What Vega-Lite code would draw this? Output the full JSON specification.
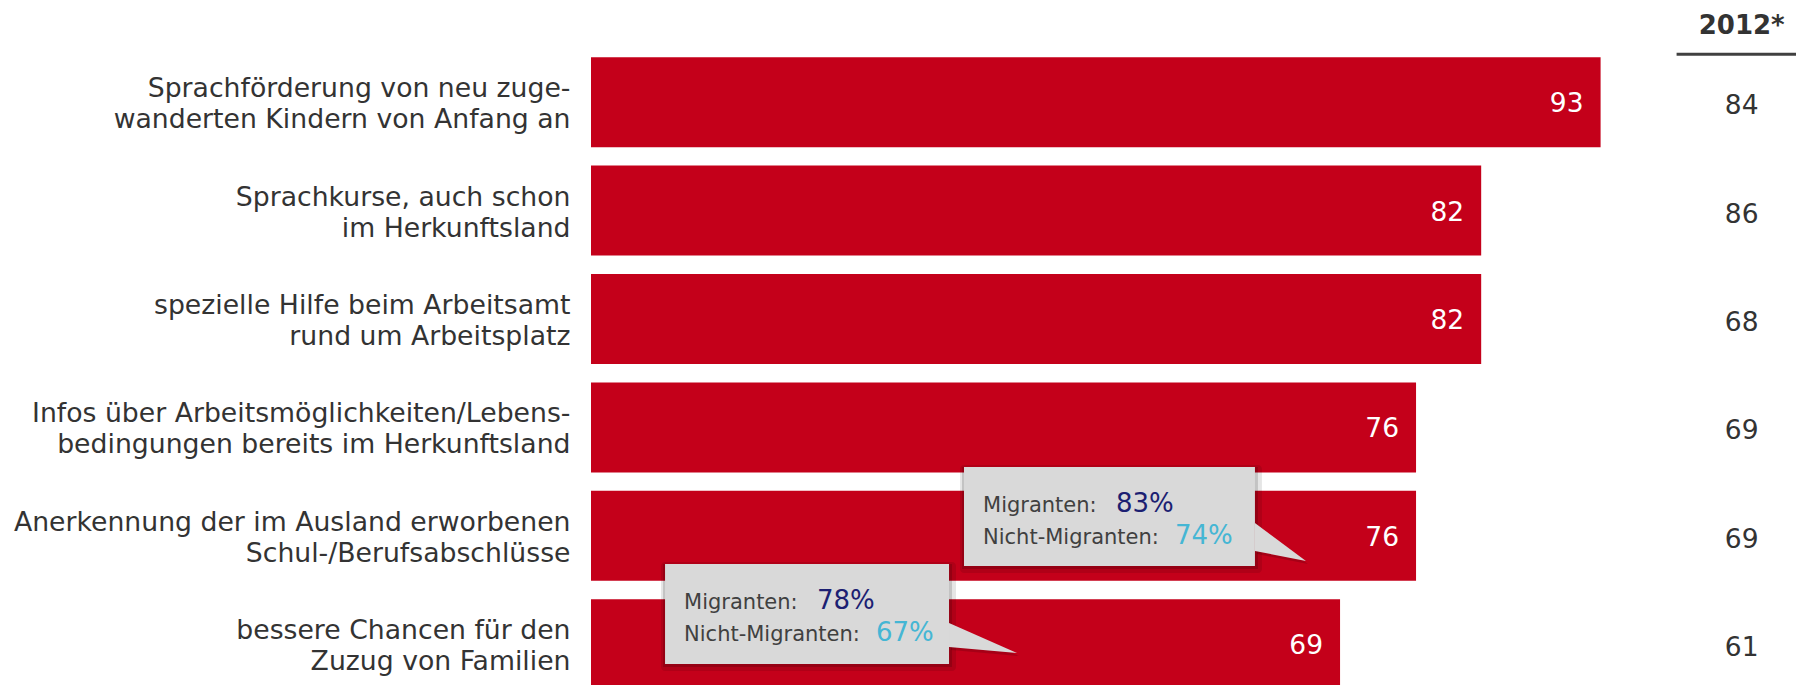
{
  "$schema": "https://vega.github.io/schema/vega-lite/v6.json",
  "autosize": {"type": "none"},
  "width": 1205,
  "height": 637,
  "padding": {"left": 591, "top": 48, "right": 0, "bottom": 0},
  "background": "white",
  "config": {
    "view": {"stroke": null},
    "font": "DejaVu Sans",
    "text": {"font": "DejaVu Sans"}
  },
  "datasets": {
    "bars": [
      {"label": "Sprachförderung von neu zuge-|wanderten Kindern von Anfang an", "v": 93, "v2012": 84},
      {"label": "Sprachkurse, auch schon|im Herkunftsland", "v": 82, "v2012": 86},
      {"label": "spezielle Hilfe beim Arbeitsamt|rund um Arbeitsplatz", "v": 82, "v2012": 68},
      {"label": "Infos über Arbeitsmöglichkeiten/Lebens-|bedingungen bereits im Herkunftsland", "v": 76, "v2012": 69},
      {"label": "Anerkennung der im Ausland erworbenen|Schul-/Berufsabschlüsse", "v": 76, "v2012": 69},
      {"label": "bessere Chancen für den|Zuzug von Familien", "v": 69, "v2012": 61}
    ],
    "header": [
      {"label": "Sprachförderung von neu zuge-|wanderten Kindern von Anfang an", "h": "2012*", "xs": 100, "xe": 111}
    ],
    "callouts": [
      {"id": "A", "x1": 34.36, "x2": 61.16, "y1": 3.865, "y2": 4.779, "mig": "83%", "nicht": "74%"},
      {"id": "B", "x1": 6.82, "x2": 32.98, "y1": 4.76, "y2": 5.683, "mig": "78%", "nicht": "67%"}
    ],
    "pointers": [
      {"id": "A", "px": 61.16, "py": 4.382, "py2": 4.64},
      {"id": "A", "px": 65.86, "py": 4.733, "py2": 4.733},
      {"id": "B", "px": 32.98, "py": 5.304, "py2": 5.526},
      {"id": "B", "px": 39.24, "py": 5.581, "py2": 5.581}
    ]
  },
  "resolve": {"scale": {"y": "independent"}},
  "layer": [
    {
      "layer": [
        {
          "data": {"name": "bars"},
          "mark": {"type": "bar", "color": "#c4001a"},
          "encoding": {
            "y": {
              "field": "label", "type": "nominal", "sort": null,
              "scale": {
                "domain": [
                  "Sprachförderung von neu zuge-|wanderten Kindern von Anfang an",
                  "Sprachkurse, auch schon|im Herkunftsland",
                  "spezielle Hilfe beim Arbeitsamt|rund um Arbeitsplatz",
                  "Infos über Arbeitsmöglichkeiten/Lebens-|bedingungen bereits im Herkunftsland",
                  "Anerkennung der im Ausland erworbenen|Schul-/Berufsabschlüsse",
                  "bessere Chancen für den|Zuzug von Familien"
                ],
                "range": [0, 650.4], "paddingInner": 0.17, "paddingOuter": 0.085
              },
              "axis": {
                "title": null, "domain": false, "ticks": false,
                "labelFontSize": 26.7, "labelColor": "#333333", "labelFont": "DejaVu Sans",
                "labelPadding": 21, "labelLineHeight": 31, "labelLimit": 0, "labelOffset": -13,
                "labelExpr": "split(datum.label, '|')"
              }
            },
            "x": {"field": "v", "type": "quantitative", "scale": {"domain": [0, 111], "nice": false, "zero": true}, "axis": null}
          }
        },
        {
          "data": {"name": "bars"},
          "mark": {"type": "text", "align": "right", "baseline": "middle", "dx": -17, "dy": 2, "color": "white", "fontSize": 26.5},
          "encoding": {
            "y": {"field": "label", "type": "nominal", "sort": null},
            "x": {"field": "v", "type": "quantitative"},
            "text": {"field": "v", "type": "quantitative"}
          }
        },
        {
          "data": {"name": "bars"},
          "mark": {"type": "text", "align": "center", "baseline": "middle", "color": "#333333", "fontSize": 26.5, "dy": 4},
          "encoding": {
            "y": {"field": "label", "type": "nominal", "sort": null},
            "x": {"datum": 106},
            "text": {"field": "v2012", "type": "quantitative"}
          }
        },
        {
          "data": {"name": "header"},
          "mark": {"type": "text", "align": "center", "baseline": "alphabetic", "color": "#333333", "fontSize": 26, "fontWeight": "bold", "yOffset": -68},
          "encoding": {
            "y": {"field": "label", "type": "nominal", "sort": null},
            "x": {"datum": 106},
            "text": {"field": "h"}
          }
        },
        {
          "data": {"name": "header"},
          "mark": {"type": "rule", "color": "#404040", "strokeWidth": 3, "yOffset": -48},
          "encoding": {
            "y": {"field": "label", "type": "nominal", "sort": null},
            "x": {"field": "xs", "type": "quantitative"},
            "x2": {"field": "xe"}
          }
        }
      ]
    },
    {
      "layer": [
        {
          "data": {"name": "callouts"},
          "mark": {"type": "rect", "color": "black", "opacity": 0.1, "xOffset": -4, "x2Offset": 7, "yOffset": -2, "y2Offset": 7, "cornerRadius": 4},
          "encoding": {
            "x": {"field": "x1", "type": "quantitative"},
            "x2": {"field": "x2"},
            "y": {"field": "y1", "type": "quantitative", "scale": {"domain": [0, 6], "range": [0, 650.4], "nice": false, "zero": false}, "axis": null},
            "y2": {"field": "y2"}
          }
        },
        {
          "data": {"name": "callouts"},
          "mark": {"type": "rect", "color": "black", "opacity": 0.15, "xOffset": -2, "x2Offset": 3, "yOffset": 0, "y2Offset": 3},
          "encoding": {
            "x": {"field": "x1", "type": "quantitative"},
            "x2": {"field": "x2"},
            "y": {"field": "y1", "type": "quantitative"},
            "y2": {"field": "y2"}
          }
        },
        {
          "data": {"name": "pointers"},
          "mark": {"type": "area", "orient": "vertical", "color": "black", "opacity": 0.15, "xOffset": 2, "yOffset": 3, "y2Offset": 3},
          "encoding": {
            "x": {"field": "px", "type": "quantitative"},
            "y": {"field": "py", "type": "quantitative"},
            "y2": {"field": "py2"},
            "detail": {"field": "id"}
          }
        },
        {
          "data": {"name": "pointers"},
          "mark": {"type": "area", "orient": "vertical", "color": "#d9d9d9", "opacity": 1},
          "encoding": {
            "x": {"field": "px", "type": "quantitative"},
            "y": {"field": "py", "type": "quantitative"},
            "y2": {"field": "py2"},
            "detail": {"field": "id"}
          }
        },
        {
          "data": {"name": "callouts"},
          "mark": {"type": "rect", "color": "#d9d9d9"},
          "encoding": {
            "x": {"field": "x1", "type": "quantitative"},
            "x2": {"field": "x2"},
            "y": {"field": "y1", "type": "quantitative"},
            "y2": {"field": "y2"}
          }
        },
        {
          "data": {"name": "callouts"},
          "mark": {"type": "text", "text": "Migranten:", "align": "left", "baseline": "alphabetic", "color": "#404040", "fontSize": 21, "xOffset": 19, "yOffset": 45},
          "encoding": {
            "x": {"field": "x1", "type": "quantitative"},
            "y": {"field": "y1", "type": "quantitative"}
          }
        },
        {
          "data": {"name": "callouts"},
          "mark": {"type": "text", "text": "Nicht-Migranten:", "align": "left", "baseline": "alphabetic", "color": "#404040", "fontSize": 21, "xOffset": 19, "yOffset": 77},
          "encoding": {
            "x": {"field": "x1", "type": "quantitative"},
            "y": {"field": "y1", "type": "quantitative"}
          }
        },
        {
          "data": {"name": "callouts"},
          "mark": {"type": "text", "align": "left", "baseline": "alphabetic", "color": "#1c1f72", "fontSize": 26, "xOffset": 152, "yOffset": 45},
          "encoding": {
            "x": {"field": "x1", "type": "quantitative"},
            "y": {"field": "y1", "type": "quantitative"},
            "text": {"field": "mig"}
          }
        },
        {
          "data": {"name": "callouts"},
          "mark": {"type": "text", "align": "left", "baseline": "alphabetic", "color": "#45b6d4", "fontSize": 26, "xOffset": 211, "yOffset": 77},
          "encoding": {
            "x": {"field": "x1", "type": "quantitative"},
            "y": {"field": "y1", "type": "quantitative"},
            "text": {"field": "nicht"}
          }
        }
      ]
    }
  ]
}
